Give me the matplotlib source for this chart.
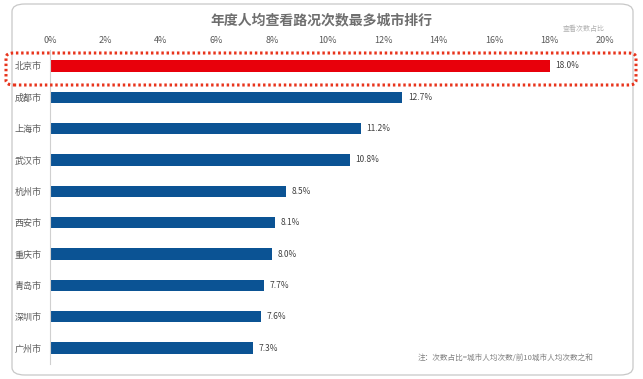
import matplotlib
matplotlib.use("Agg")
import matplotlib.pyplot as plt
from matplotlib.patches import FancyBboxPatch

plt.rcParams['font.family'] = ['Noto Sans CJK SC', 'DejaVu Sans']

cities = ["北京市", "成都市", "上海市", "武汉市", "杭州市", "西安市", "重庆市", "青岛市", "深圳市", "广州市"]
values = [18.0, 12.7, 11.2, 10.8, 8.5, 8.1, 8.0, 7.7, 7.6, 7.3]
xticks = [0, 2, 4, 6, 8, 10, 12, 14, 16, 18, 20]
title = "年度人均查看路况次数最多城市排行"
axis_label = "查看次数占比"
note = "注：次数占比=城市人均次数/前10城市人均次数之和"

W, H = 643, 379
fig = plt.figure(figsize=(W / 100, H / 100), dpi=100)

# outer rounded frame
frame = FancyBboxPatch((12 / W, 4 / H), 621 / W, 371 / H,
                       boxstyle="round,pad=0,rounding_size=0.02",
                       transform=fig.transFigure, fill=False,
                       edgecolor="#C8C8C8", linewidth=0.9)
fig.patches.append(frame)

ax = fig.add_axes([50 / W, 1 - 363.7 / H, 555 / W, (363.7 - 50.3) / H])
colors = ["#E8000B"] + ["#0B5394"] * (len(cities) - 1)
ypos = list(range(len(cities)))
ax.barh(ypos, values, height=0.36, color=colors)
ax.set_ylim(len(cities) - 0.5, -0.5)
ax.set_xlim(0, 20)
ax.set_yticks(ypos)
ax.set_yticklabels(cities, fontsize=6.5, color="#595959")
ax.xaxis.tick_top()
ax.set_xticks(xticks)
ax.set_xticklabels([f"{t}%" for t in xticks], fontsize=6.5, color="#595959")
ax.tick_params(axis="both", length=0, pad=6)
ax.tick_params(axis="x", pad=4)
for s in ["top", "right", "bottom"]:
    ax.spines[s].set_visible(False)
ax.spines["left"].set_color("#D0D0D0")
ax.spines["left"].set_linewidth(0.8)

for y, v in zip(ypos, values):
    ax.text(v + 0.2, y, f"{v:.1f}%", va="center", ha="left", fontsize=6, color="#404040")

fig.text(0.5, 1 - 20 / H, title, ha="center", va="center", fontsize=10,
         fontweight="bold", color="#6E6E6E")
fig.text(605 / W, 1 - 29 / H, axis_label, ha="right", va="center", fontsize=5,
         color="#B0B0B0")
fig.text(594 / W, 1 - 358 / H, note, ha="right", va="center", fontsize=5.5,
         color="#808080")

# dotted highlight around first row
hl = FancyBboxPatch((6 / W, 1 - 85 / H), 630 / W, 32 / H,
                    boxstyle="round,pad=0,rounding_size=0.012",
                    transform=fig.transFigure, fill=False,
                    edgecolor="#E8341C", linewidth=2.2, linestyle=(0, (0.8, 0.9)))
fig.patches.append(hl)

fig.savefig("out.png", dpi=100)
